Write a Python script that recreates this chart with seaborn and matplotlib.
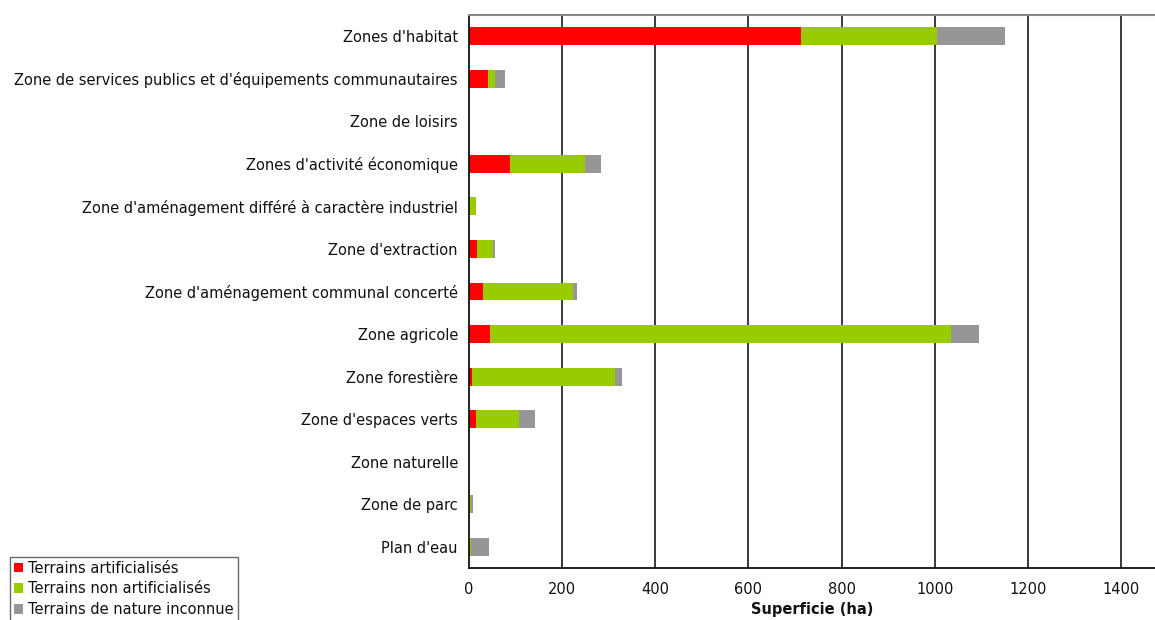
import matplotlib
matplotlib.use("Agg")
import matplotlib.pyplot as plt
import seaborn as sns
import pandas as pd
import numpy as np
from matplotlib.patches import Patch

categories = [
    "Zones d'habitat",
    "Zone de services publics et d'équipements communautaires",
    "Zone de loisirs",
    "Zones d'activité économique",
    "Zone d'aménagement différé à caractère industriel",
    "Zone d'extraction",
    "Zone d'aménagement communal concerté",
    "Zone agricole",
    "Zone forestière",
    "Zone d'espaces verts",
    "Zone naturelle",
    "Zone de parc",
    "Plan d'eau",
]
artificialises = [712, 40, 0, 89, 0, 17, 31, 45, 7, 14, 0, 1, 1]
non_artificialises = [293, 15, 0, 160, 16, 34, 193, 990, 307, 93, 0, 4, 4]
nature_inconnue = [145, 23, 0, 34, 0, 4, 8, 60, 15, 34, 0, 4, 39]
series_names = ["Terrains artificialisés", "Terrains non artificialisés", "Terrains de nature inconnue"]
xticks = [0, 200, 400, 600, 800, 1000, 1200, 1400]

colors = ["#FF0000", "#99CC00", "#969696"]

df = pd.DataFrame({
    "cat": categories,
    "a": artificialises,
    "b": non_artificialises,
    "c": nature_inconnue,
})
df["ab"] = df["a"] + df["b"]
df["abc"] = df["ab"] + df["c"]

sns.set_theme(style="white")
plt.rcParams["font.family"] = ["DejaVu Sans"]

fs = 10.5
txt = "#111111"

fig = plt.figure(figsize=(11.55, 6.2), dpi=100)
ax = fig.add_axes([469/1155, 52/620, 1 - 469/1155, 553/620])

w = 0.42
sns.barplot(data=df, y="cat", x="abc", order=categories, color=colors[2], width=w,
            saturation=1, ax=ax, orient="h", linewidth=0)
sns.barplot(data=df, y="cat", x="ab", order=categories, color=colors[1], width=w,
            saturation=1, ax=ax, orient="h", linewidth=0)
sns.barplot(data=df, y="cat", x="a", order=categories, color=colors[0], width=w,
            saturation=1, ax=ax, orient="h", linewidth=0)

ax.set_xlim(0, 686/0.4657)
ax.set_ylim(len(categories) - 0.5, -0.5)
ax.set_xticks(xticks)
ax.set_xticklabels([str(t) for t in xticks], fontsize=fs, color=txt)
ax.tick_params(axis="x", direction="inout", length=8, width=1, color="#222222", pad=6)
ax.set_yticks(range(len(categories)))
ax.set_yticklabels(categories, fontsize=fs, color=txt)
ax.tick_params(axis="y", length=0, pad=8)
# boundary tick marks on y axis
ax.set_yticks(np.arange(-0.5, len(categories), 1), minor=True)
ax.tick_params(axis="y", which="minor", direction="out", length=5, width=1.5, color="#333333")

for t in xticks[1:]:
    ax.axvline(t, color="#2a2a2a", lw=1.3, zorder=0)
ax.set_axisbelow(True)

for s in ["left", "bottom"]:
    ax.spines[s].set_color("#111111")
    ax.spines[s].set_linewidth(1.3)
ax.spines["top"].set_color("#888888")
ax.spines["top"].set_linewidth(1.5)
ax.spines["right"].set_visible(False)

ax.set_ylabel("")
ax.set_xlabel("Superficie (ha)", fontsize=fs, fontweight="bold", color=txt, labelpad=4)

handles = [Patch(facecolor=c, edgecolor="none") for c in colors]
leg = fig.legend(handles, series_names, loc="upper left", bbox_to_anchor=(10/1155, 1 - 557/620),
                 frameon=True, fontsize=fs, handlelength=0.65, handleheight=0.65,
                 handletextpad=0.35, borderpad=0.25, labelspacing=0.4, borderaxespad=0,
                 fancybox=False)
leg.get_frame().set_edgecolor("#444444")
leg.get_frame().set_linewidth(1)
for t in leg.get_texts():
    t.set_color(txt)

fig.savefig("out.png", dpi=100)
